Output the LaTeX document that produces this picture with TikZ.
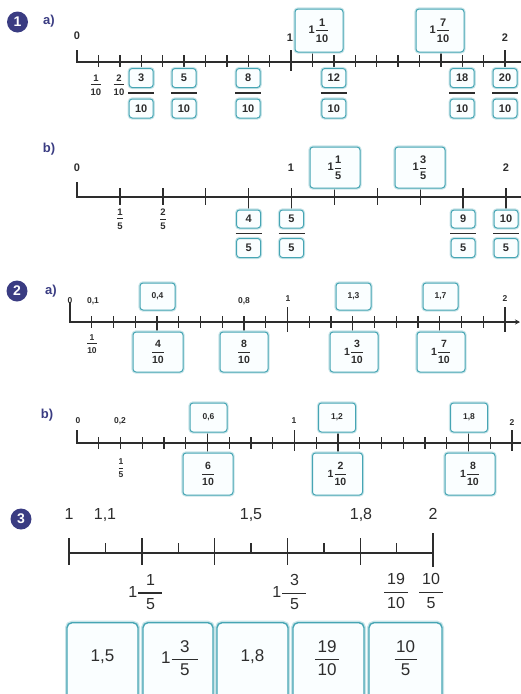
\documentclass[tikz,border=0pt]{standalone}
\usepackage{amsmath}
\usepackage{fontspec}
\setmainfont{Liberation Sans}
\usetikzlibrary{arrows.meta}
\definecolor{tealb}{RGB}{70,165,180}
\definecolor{navy}{RGB}{58,60,130}
\definecolor{ink}{RGB}{45,45,45}
\definecolor{boxfill}{RGB}{250,254,255}
\newcommand\fA{\bfseries\fontsize{11}{13}\selectfont}
\newcommand\fAs{\bfseries\fontsize{9.5}{11}\selectfont}
\newcommand\fB{\bfseries\fontsize{8.5}{10}\selectfont}
\newcommand\fBb{\bfseries\fontsize{10.5}{12}\selectfont}
\newcommand\fC{\fontsize{16}{19}\selectfont}
\newcommand\fD{\fontsize{17}{20}\selectfont}
\newcommand\fr[2]{$\genfrac{}{}{1pt}{0}{\text{#1}}{\text{#2}}$}
\newcommand\mx[3]{$\text{#1}\genfrac{}{}{1pt}{0}{\text{#2}}{\text{#3}}$}
\newcommand\frw[3]{$\genfrac{}{}{1.2pt}{0}{\text{\makebox[#1]{#2}}}{\text{#3}}$}
\newcommand\mxw[4]{$\text{#2}\genfrac{}{}{1.2pt}{0}{\text{\makebox[#1]{#3}}}{\text{#4}}$}
\tikzset{
  nl/.style={draw=ink, line width=1.6pt},
  tk/.style={draw=ink, line width=1.4pt},
  tks/.style={draw=ink, line width=1.2pt},
  bar/.style={draw=ink, line width=1.6pt},
  tbox/.style={draw=tealb, line width=1pt, rounded corners=3pt, fill=boxfill,
    inner sep=0pt, text=ink, preaction={draw=tealb!30, line width=3.2pt}},
  bbox/.style={draw=tealb, line width=1.4pt, rounded corners=5pt, fill=boxfill,
    inner sep=0pt, text=ink, preaction={draw=tealb!30, line width=4pt}},
  lab/.style={inner sep=0pt, text=ink, text height=0.72em, text depth=0pt},
  fl/.style={inner sep=0pt, text=ink},
  numc/.style={circle, fill=navy, text=white, inner sep=0pt, minimum size=21pt,
    font=\bfseries\fontsize{14}{14}\selectfont},
  part/.style={text=navy, inner sep=0pt, font=\bfseries\fontsize{13}{13}\selectfont},
}
\begin{document}
\begin{tikzpicture}[x=1pt,y=-1pt]
\useasboundingbox (0,0) rectangle (521,694);

% ---------------- 1 a) ----------------
\node[numc] (n1) at (17.5,22) {1};
\node[part] (p1a) at (49,21) {a)};
\draw[nl] (77,50) -- (77,62) -- (521,62);
\foreach \k in {1,...,19} \draw[tk] ({77+21.4*\k},55) -- ({77+21.4*\k},67);
\draw[tk] (291,50) -- (291,71);
\draw[tk] (505,50) -- (505,71);
\foreach \k in {3,5,8,12,18} \draw[tk] ({77+21.4*\k},62) -- ({77+21.4*\k},69);
\foreach \k in {11,17} \draw[tk] ({77+21.4*\k},51) -- ({77+21.4*\k},62);
\node[lab,font=\fA] (a0) at (77,36) {0};
\node[lab,font=\fA] (a1) at (290,38) {1};
\node[lab,font=\fA] (a2) at (505,38) {2};
\node[fl,font=\fAs] (a110) at (96,85) {\fr{1}{10}};
\node[fl,font=\fAs] (a210) at (119,85) {\fr{2}{10}};
\foreach \k/\n in {3/3,5/5,8/8,12/12,18/18,20/20} {
  \node[tbox,minimum width=24pt,minimum height=19pt,font=\fA] (an\n) at ({77+21.4*\k},78) {\n};
  \node[tbox,minimum width=24pt,minimum height=19pt,font=\fA] (ad\n) at ({77+21.4*\k},108.5) {10};
  \draw[bar] ({77+21.4*\k-13},93) -- ({77+21.4*\k+13},93);
}
\node[tbox,minimum width=48pt,minimum height=43pt,font=\fA] (at11) at (319,30.5) {\mx{1}{1}{10}};
\node[tbox,minimum width=48pt,minimum height=43pt,font=\fA] (at17) at (440,30.5) {\mx{1}{7}{10}};

% ---------------- 1 b) ----------------
\node[part] (p1b) at (49,149) {b)};
\draw[nl] (77,182) -- (77,197) -- (521,197);
\foreach \k in {1,...,10} \draw[tk] ({77+42.9*\k},188) -- ({77+42.9*\k},205);
\foreach \k in {4,5,9,10} \draw[tk] ({77+42.9*\k},197) -- ({77+42.9*\k},211);
\node[lab,font=\fA] (b0) at (77,168) {0};
\node[lab,font=\fA] (b1) at (291,168) {1};
\node[lab,font=\fA] (b2) at (506,168) {2};
\node[fl,font=\fAs] (b15) at (120,219) {\fr{1}{5}};
\node[fl,font=\fAs] (b25) at (163,219) {\fr{2}{5}};
\foreach \k/\n in {4/4,5/5,9/9,10/10} {
  \node[tbox,minimum width=24pt,minimum height=18pt,font=\fA] (bn\n) at ({77+42.9*\k},219) {\n};
  \node[tbox,minimum width=24pt,minimum height=19pt,font=\fA] (bd\n) at ({77+42.9*\k},248) {5};
  \draw[bar] ({77+42.9*\k-13},233.5) -- ({77+42.9*\k+13},233.5);
}
\node[tbox,minimum width=50pt,minimum height=41pt,font=\fA] (bt11) at (335,167.5) {\mx{1}{1}{5}};
\node[tbox,minimum width=50pt,minimum height=41pt,font=\fA] (bt13) at (420,167.5) {\mx{1}{3}{5}};

% ---------------- 2 a) ----------------
\node[numc] (n2) at (17,291) {2};
\node[part] (p2a) at (51,291) {a)};
\draw[nl] (70,302) -- (70,322) -- (514,322);
\draw[ink, line width=1.2pt, -{Stealth[length=5pt,width=5pt]}] (510,322) -- (520,322);
\foreach \k in {1,...,19} \draw[tks] ({70+21.75*\k},316) -- ({70+21.75*\k},328);
\foreach \k in {4,8,13,17} \draw[tks] ({70+21.75*\k},316) -- ({70+21.75*\k},332);
\draw[tk] (287.5,307) -- (287.5,332);
\draw[tk] (505,307) -- (505,332);
\node[lab,font=\fB] (c0) at (70,300) {0};
\node[lab,font=\fB] (c01) at (93,300) {0,1};
\node[lab,font=\fB] (c08) at (244,300) {0,8};
\node[lab,font=\fB] (c1) at (288,298) {1};
\node[lab,font=\fB] (c2) at (505,298) {2};
\node[fl,font=\fB] (c110) at (92,344) {\fr{1}{10}};
\node[tbox,minimum width=35pt,minimum height=27pt,font=\fB] (ct04) at (157.5,296.5) {0,4};
\node[tbox,minimum width=35pt,minimum height=27pt,font=\fB] (ct13) at (353.5,296.5) {1,3};
\node[tbox,minimum width=35pt,minimum height=27pt,font=\fB] (ct17) at (440.5,296.5) {1,7};
\node[tbox,minimum width=50pt,minimum height=40pt,font=\fBb] (cb4) at (158,352) {\fr{4}{10}};
\node[tbox,minimum width=48pt,minimum height=40pt,font=\fBb] (cb8) at (244,352) {\fr{8}{10}};
\node[tbox,minimum width=48pt,minimum height=40pt,font=\fBb] (cb13) at (354,352) {\mx{1}{3}{10}};
\node[tbox,minimum width=48pt,minimum height=40pt,font=\fBb] (cb17) at (441,352) {\mx{1}{7}{10}};

% ---------------- 2 b) ----------------
\node[part] (p2b) at (47,415) {b)};
\draw[nl] (77,430) -- (77,443) -- (521,443);
\foreach \k in {1,...,19} \draw[tks] ({77+21.75*\k},437) -- ({77+21.75*\k},449);
\foreach \k in {6,12,18} \draw[tks] ({77+21.75*\k},432) -- ({77+21.75*\k},453);
\draw[tk] (294.5,430) -- (294.5,451);
\draw[tk] (512,430) -- (512,451);
\node[lab,font=\fB] (d0) at (78,420) {0};
\node[lab,font=\fB] (d02) at (120,420) {0,2};
\node[lab,font=\fB] (d1) at (294,420) {1};
\node[lab,font=\fB] (d2) at (512,422) {2};
\node[fl,font=\fB] (d15) at (121,468) {\fr{1}{5}};
\node[tbox,minimum width=37pt,minimum height=29pt,font=\fB] (dt06) at (208.5,417.5) {0,6};
\node[tbox,minimum width=37pt,minimum height=29pt,font=\fB] (dt12) at (337,417.5) {1,2};
\node[tbox,minimum width=37pt,minimum height=29pt,font=\fB] (dt18) at (469,417.5) {1,8};
\node[tbox,minimum width=50pt,minimum height=42pt,font=\fBb] (db6) at (208,474) {\fr{6}{10}};
\node[tbox,minimum width=50pt,minimum height=42pt,font=\fBb] (db12) at (337.5,474) {\mx{1}{2}{10}};
\node[tbox,minimum width=50pt,minimum height=42pt,font=\fBb] (db18) at (470,474) {\mx{1}{8}{10}};

% ---------------- 3 ----------------
\node[numc] (n3) at (21,519) {3};
\draw[nl] (69,553) -- (433,553);
\foreach \j in {1,...,4} \draw[tk] ({69+72.8*\j},538) -- ({69+72.8*\j},565);
\draw[tk] (69,538) -- (69,565);
\draw[tk] (433,533) -- (433,567);
\foreach \j in {0,...,4} \draw[tk] ({105.4+72.8*\j},543) -- ({105.4+72.8*\j},553);
\node[lab,font=\fC] (e1) at (69,516) {1};
\node[lab,font=\fC] (e11) at (105,516) {1,1};
\node[lab,font=\fC] (e15) at (251,516) {1,5};
\node[lab,font=\fC] (e18) at (361,516) {1,8};
\node[lab,font=\fC] (e2) at (433,516) {2};
\node[fl,font=\fC] (f115) at (146,592) {\mxw{24pt}{1}{1}{5}};
\node[fl,font=\fC] (f135) at (290,592) {\mxw{24pt}{1}{3}{5}};
\node[fl,font=\fC] (f1910) at (396,591) {\frw{24pt}{19}{10}};
\node[fl,font=\fC] (f105) at (431,591) {\frw{24pt}{10}{5}};
\node[bbox,minimum width=71pt,minimum height=80pt,anchor=north] (g1) at (102.5,622) {};
\node[bbox,minimum width=70pt,minimum height=80pt,anchor=north] (g2) at (178,622) {};
\node[bbox,minimum width=71pt,minimum height=80pt,anchor=north] (g3) at (252.5,622) {};
\node[bbox,minimum width=71pt,minimum height=80pt,anchor=north] (g4) at (328.5,622) {};
\node[bbox,minimum width=73pt,minimum height=80pt,anchor=north] (g5) at (405.5,622) {};
\node[lab,font=\fD] (h1) at (102.5,658) {1,5};
\node[fl,font=\fD] (h2) at (180,658) {\mxw{26pt}{1}{3}{5}};
\node[lab,font=\fD] (h3) at (252.5,658) {1,8};
\node[fl,font=\fD] (h4) at (327,658) {\frw{24pt}{19}{10}};
\node[fl,font=\fD] (h5) at (405.5,658) {\frw{22pt}{10}{5}};
\end{tikzpicture}
\end{document}
